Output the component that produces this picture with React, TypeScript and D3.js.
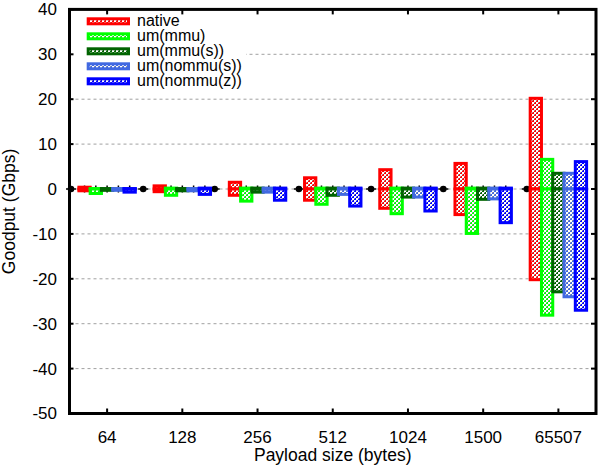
import React from 'react';
import * as d3 from 'd3';

const categories = ['64', '128', '256', '512', '1024', '1500', '65507'];
const seriesNames = ['native', 'um(mmu)', 'um(mmu(s))', 'um(nommu(s))', 'um(nommu(z))'];
const seriesColors = ['#ff0000', '#00ff00', '#006400', '#4169e1', '#0000ff'];

// upper (positive) and lower (negative) extents, Gbps
const nativeUp = [0.4, 0.7, 1.5, 2.5, 4.3, 5.7, 20.2];
const nativeDown = [-0.4, -0.6, -1.4, -2.5, -4.3, -5.7, -20.2];
const mmuUp = [0.1, 0.2, 0.2, 0.2, 0.2, 0.2, 6.6];
const mmuDown = [-1.0, -1.4, -2.7, -3.4, -5.5, -9.9, -28.1];
const mmuSUp = [0.1, 0.1, 0.2, 0.2, 0.2, 0.2, 3.5];
const mmuSDown = [-0.3, -0.4, -0.7, -1.4, -1.8, -2.3, -22.9];
const nommuSUp = [0.1, 0.1, 0.2, 0.2, 0.2, 0.2, 3.5];
const nommuSDown = [-0.3, -0.4, -0.7, -1.2, -1.8, -2.2, -24.0];
const nommuZUp = [0.1, 0.2, 0.2, 0.2, 0.2, 0.2, 6.1];
const nommuZDown = [-0.7, -1.2, -2.5, -3.8, -4.9, -7.5, -27.0];

const upSeries = [nativeUp, mmuUp, mmuSUp, nommuSUp, nommuZUp];
const downSeries = [nativeDown, mmuDown, mmuSDown, nommuSDown, nommuZDown];

const yTicks = [-50, -40, -30, -20, -10, 0, 10, 20, 30, 40];
// black markers on the zero line (category units)
const zeroDots = [-0.48, 0.48, 1.43, 2.55, 3.51, 4.47, 5.58];

const W = 598;
const H = 466;
const FONT = '"Liberation Sans", Arial, sans-serif';

export default function App() {
  const x = d3.scaleLinear().domain([-0.5, 6.5]).range([69.5, 596]);
  const y = d3.scaleLinear().domain([-50, 40]).range([413.5, 9.4]);
  const barW = 0.15;
  const unit = x(1) - x(0);
  const bw = barW * unit;
  const offs = [-2, -1, 0, 1, 2];

  const left = x(-0.5), right = x(6.5), top = y(40), bottom = y(-50);

  return (
    <svg width={W} height={H} style={{ position: 'absolute', left: 0, top: 0, background: '#fff' }} fontFamily={FONT}>
      <defs>
        {seriesColors.map((c, i) => (
          <pattern key={i} id={`pat${i}`} patternUnits="userSpaceOnUse" x={0} y={0} width={4} height={4}>
            <rect width={4} height={4} fill="#fff" />
            <rect x={0} y={0} width={2} height={2} fill={c} shapeRendering="crispEdges" />
            <rect x={2} y={2} width={2} height={2} fill={c} shapeRendering="crispEdges" />
            <rect x={0} y={0} width={1} height={1} fill="#999" shapeRendering="crispEdges" />
            <rect x={2} y={2} width={1} height={1} fill="#999" shapeRendering="crispEdges" />
          </pattern>
        ))}
      </defs>
      <rect x={0} y={0} width={W} height={H} fill="#fff" />
      {/* grid */}
      {yTicks.filter(t => t > -50 && t < 40).map(t => (
        <line key={t} x1={left} x2={right} y1={y(t)} y2={y(t)} stroke="#a0a0a0" strokeWidth={1} strokeDasharray="3,3" />
      ))}
      {/* small marks at bar centers on the zero line */}
      {categories.map((c, ci) => offs.map((o, si) => (
        <line key={`m${ci}-${si}`} x1={x(ci + o * barW)} x2={x(ci + o * barW)} y1={y(0) - 3.5} y2={y(0) + 3.5} stroke="#000" strokeWidth={1.5} />
      )))}
      {zeroDots.map((d, i) => (
        <g key={`d${i}`}>
          <circle cx={x(d)} cy={y(0)} r={3.3} fill="#000" />
          <line x1={x(d) - 5} x2={x(d) + 5} y1={y(0)} y2={y(0)} stroke="#000" strokeWidth={1.5} />
        </g>
      ))}
      {/* boxes */}
      {seriesNames.map((s, si) => (
        <g key={s}>
          {categories.map((c, ci) => {
            const cx = x(ci + offs[si] * barW);
            const up = upSeries[si][ci];
            const dn = downSeries[si][ci];
            return (
              <g key={c}>
                <rect x={cx - bw / 2} y={y(up)} width={bw} height={y(0) - y(up)} fill={`url(#pat${si})`} stroke={seriesColors[si]} strokeWidth={3} />
                <rect x={cx - bw / 2} y={y(0)} width={bw} height={y(dn) - y(0)} fill={`url(#pat${si})`} stroke={seriesColors[si]} strokeWidth={3} />
              </g>
            );
          })}
        </g>
      ))}
      {/* legend */}
      <rect x={71} y={11} width={175} height={78} fill="#fff" />
      {seriesNames.map((s, i) => {
        const cy = 21.3 + i * 15;
        return (
          <g key={s}>
            <rect x={88.2} y={cy - 2.5} width={40.3} height={5} fill={`url(#pat${i})`} stroke={seriesColors[i]} strokeWidth={3} />
            <text x={137} y={cy + 4.5} fontSize={16} fill="#000">{s}</text>
          </g>
        );
      })}
      {/* ticks */}
      {yTicks.map(t => (
        <g key={`yt${t}`}>
          <line x1={left} x2={left + 4} y1={y(t)} y2={y(t)} stroke="#000" strokeWidth={2} />
          <line x1={right} x2={right - 5} y1={y(t)} y2={y(t)} stroke="#000" strokeWidth={2} />
          <text x={57} y={y(t)} dy="0.35em" textAnchor="end" fontSize={17} fill="#000">{t}</text>
        </g>
      ))}
      {categories.map((c, i) => (
        <g key={`xt${c}`}>
          <line x1={x(i)} x2={x(i)} y1={bottom} y2={bottom - 5} stroke="#000" strokeWidth={2} />
          <line x1={x(i)} x2={x(i)} y1={top} y2={top + 5} stroke="#000" strokeWidth={2} />
          <text x={x(i)} y={443} textAnchor="middle" fontSize={17} fill="#000">{c}</text>
        </g>
      ))}
      {/* frame */}
      <rect x={left} y={top} width={right - left} height={bottom - top} fill="none" stroke="#000" strokeWidth={3} />
      <text x={(left + right) / 2} y={461} textAnchor="middle" fontSize={17.5} fill="#000">Payload size (bytes)</text>
      <text transform={`translate(15,${(top + bottom) / 2}) rotate(-90)`} textAnchor="middle" fontSize={17.5} fill="#000">Goodput (Gbps)</text>
    </svg>
  );
}
